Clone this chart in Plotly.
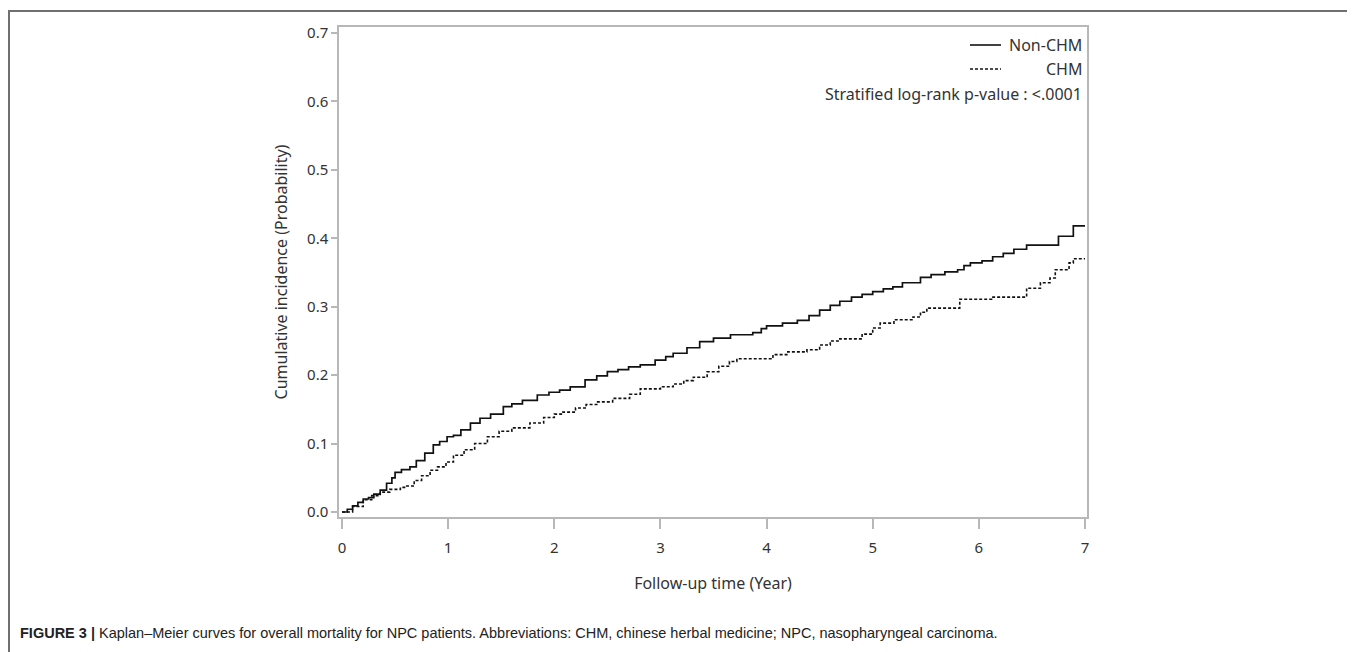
import plotly.graph_objects as go

# ---- data ----
non_chm_t = [0.0, 0.05, 0.1, 0.15, 0.2, 0.25, 0.3, 0.36, 0.42, 0.47, 0.5, 0.56, 0.64, 0.7, 0.78,
             0.86, 0.92, 0.99, 1.05, 1.12, 1.21, 1.3, 1.4, 1.52, 1.6, 1.7, 1.84, 1.95, 2.05, 2.15,
             2.29, 2.4, 2.5, 2.6, 2.7, 2.81, 2.95, 3.05, 3.12, 3.25, 3.37, 3.5, 3.66, 3.87, 3.95,
             4.0, 4.15, 4.29, 4.4, 4.5, 4.6, 4.69, 4.8, 4.9, 5.0, 5.1, 5.19, 5.28, 5.45, 5.55,
             5.68, 5.8, 5.86, 5.92, 6.03, 6.13, 6.23, 6.33, 6.45, 6.75, 6.89, 7.0]
non_chm_v = [0.0, 0.004, 0.009, 0.014, 0.019, 0.021, 0.026, 0.032, 0.042, 0.05, 0.058, 0.062, 0.066,
             0.075, 0.086, 0.098, 0.103, 0.11, 0.112, 0.12, 0.13, 0.137, 0.143, 0.154, 0.158, 0.163,
             0.171, 0.175, 0.178, 0.183, 0.193, 0.199, 0.205, 0.208, 0.212, 0.215, 0.222, 0.227,
             0.232, 0.24, 0.249, 0.254, 0.259, 0.262, 0.268, 0.272, 0.276, 0.28, 0.287, 0.295,
             0.302, 0.308, 0.314, 0.318, 0.322, 0.326, 0.329, 0.335, 0.343, 0.347, 0.351, 0.354,
             0.36, 0.364, 0.367, 0.373, 0.378, 0.384, 0.39, 0.403, 0.418, 0.418]

chm_t = [0.0, 0.1, 0.2, 0.28, 0.36, 0.45, 0.55, 0.61, 0.68, 0.75, 0.83, 0.9, 0.98, 1.05, 1.15,
         1.25, 1.37, 1.48, 1.6, 1.77, 1.9, 2.0, 2.08, 2.2, 2.3, 2.4, 2.55, 2.71, 2.81, 3.0, 3.12,
         3.22, 3.31, 3.44, 3.55, 3.65, 3.72, 3.94, 4.06, 4.2, 4.38, 4.5, 4.6, 4.69, 4.82, 4.9,
         5.0, 5.07, 5.2, 5.38, 5.45, 5.51, 5.76, 5.82, 6.08, 6.12, 6.39, 6.45, 6.58, 6.67, 6.72,
         6.81, 6.85, 6.89, 7.0]
chm_v = [0.0, 0.008, 0.018, 0.024, 0.029, 0.033, 0.036, 0.038, 0.046, 0.053, 0.061, 0.066, 0.073,
         0.083, 0.091, 0.1, 0.11, 0.118, 0.123, 0.13, 0.138, 0.143, 0.146, 0.152, 0.157, 0.161,
         0.166, 0.172, 0.18, 0.183, 0.187, 0.192, 0.197, 0.205, 0.213, 0.22, 0.224, 0.224, 0.23,
         0.234, 0.237, 0.244, 0.25, 0.253, 0.253, 0.26, 0.269, 0.276, 0.281, 0.285, 0.292, 0.298,
         0.298, 0.311, 0.311, 0.314, 0.314, 0.327, 0.335, 0.342, 0.354, 0.354, 0.364, 0.37, 0.37]

x_ticks = [0, 1, 2, 3, 4, 5, 6, 7]
y_ticks = [0.0, 0.1, 0.2, 0.3, 0.4, 0.5, 0.6, 0.7]
y_tick_text = ["0.0", "0.1", "0.2", "0.3", "0.4", "0.5", "0.6", "0.7"]

series_names = ["Non-CHM", "CHM"]
pvalue_text = "Stratified log-rank p-value : <.0001"
x_title = "Follow-up time (Year)"
y_title = "Cumulative incidence (Probability)"
caption_bold = "FIGURE 3 |"
caption_text = (" Kaplan–Meier curves for overall mortality for NPC patients. Abbreviations: CHM, "
                "chinese herbal medicine; NPC, nasopharyngeal carcinoma.")

# ---- figure ----
OFF = 8  # page body margin
W, H = 1355, 652
L, R, T, B = 339 - OFF, 1087 - OFF, 27 - OFF, 517 - OFF
pw, ph = R - L, B - T


def px(xp):
    return (xp - OFF - L) / pw


def py(yp):
    return (B - (yp - OFF)) / ph


font_main = "Noto Sans, Open Sans, sans-serif"
txt_col = "#333333"
axis_col = "#b8b8b8"

fig = go.Figure()
fig.add_trace(go.Scatter(x=non_chm_t, y=non_chm_v, mode="lines", line_shape="hv",
                         line=dict(color="#111111", width=1.7), name=series_names[0],
                         showlegend=False))
fig.add_trace(go.Scatter(x=chm_t, y=chm_v, mode="lines", line_shape="hv",
                         line=dict(color="#111111", width=1.6, dash="3px,2px"),
                         name=series_names[1], showlegend=False))

fig.update_layout(
    width=W, height=H,
    margin=dict(l=L, r=W - R, t=T, b=H - B, pad=0),
    paper_bgcolor="white", plot_bgcolor="white",
    font=dict(family=font_main, size=14, color=txt_col),
    xaxis=dict(range=[-3 / 106.1, 7 + 2 / 106.1], tickvals=x_ticks, showgrid=False, zeroline=False,
               showline=True, mirror=True, linecolor=axis_col, linewidth=1.5,
               ticks="outside", ticklen=10, tickcolor=axis_col, tickwidth=1.5,
               ticklabelstandoff=6,
               tickfont=dict(size=15, color=txt_col),
               title=dict(text=x_title, standoff=22, font=dict(size=16, color=txt_col))),
    yaxis=dict(range=[-5 / 684.3, 0.7 + 6 / 684.3], tickvals=y_ticks, ticktext=y_tick_text,
               showgrid=False, zeroline=False,
               showline=True, mirror=True, linecolor=axis_col, linewidth=1.5,
               ticks="outside", ticklen=6, tickcolor=axis_col, tickwidth=1.5,
               tickfont=dict(size=15, color=txt_col),
               title=dict(text=y_title, standoff=15, font=dict(size=16, color=txt_col))),
)

# legend-like block inside plot (top right)
leg_rows = [45, 69, 94]
for txt, yy in zip([series_names[0], series_names[1], pvalue_text], leg_rows):
    fig.add_annotation(xref="paper", yref="paper", x=px(1084), y=py(yy), text=txt,
                       showarrow=False, xanchor="right", yanchor="middle",
                       font=dict(size=16, color=txt_col))
fig.add_shape(type="line", xref="paper", yref="paper", x0=px(970), x1=px(1001),
              y0=py(leg_rows[0]), y1=py(leg_rows[0]), line=dict(color="#111111", width=1.6))
fig.add_shape(type="line", xref="paper", yref="paper", x0=px(970), x1=px(1001),
              y0=py(leg_rows[1]), y1=py(leg_rows[1]),
              line=dict(color="#111111", width=1.6, dash="3px,2px"))

# outer page frame
fig.add_shape(type="rect", xref="paper", yref="paper", x0=px(9), x1=px(1354), y0=py(11), y1=py(700),
              line=dict(color="#707070", width=2), fillcolor="rgba(0,0,0,0)", layer="below")

# caption
fig.add_annotation(xref="paper", yref="paper", x=px(18), y=py(633),
                   text="<b>" + caption_bold + "</b>" + caption_text,
                   showarrow=False, xanchor="left", yanchor="middle", align="left",
                   font=dict(family="Liberation Sans, Arial, sans-serif",
                             size=14.5, color="#222222"))

fig.write_html("out.html")
